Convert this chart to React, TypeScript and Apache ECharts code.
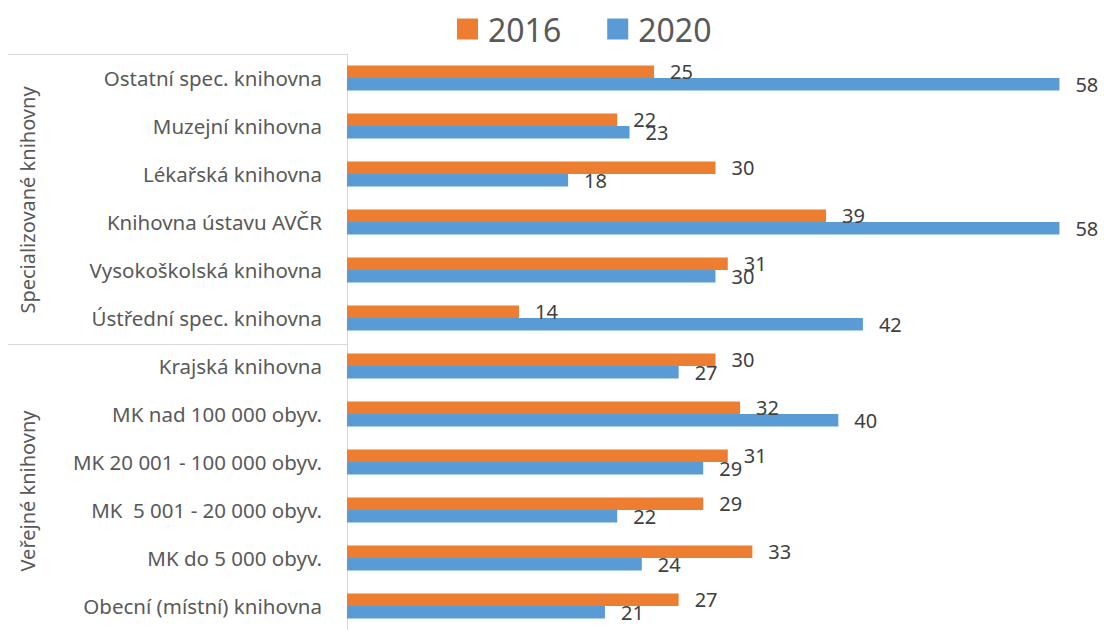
import React, { useEffect, useRef } from "react";
import * as echarts from "echarts";

const categories = [
  "Ostatní spec. knihovna",
  "Muzejní knihovna",
  "Lékařská knihovna",
  "Knihovna ústavu AVČR",
  "Vysokoškolská knihovna",
  "Ústřední spec. knihovna",
  "Krajská knihovna",
  "MK nad 100 000 obyv.",
  "MK 20 001 - 100 000 obyv.",
  "MK  5 001 - 20 000 obyv.",
  "MK do 5 000 obyv.",
  "Obecní (místní) knihovna",
];
const values2016 = [25, 22, 30, 39, 31, 14, 30, 32, 31, 29, 33, 27];
const values2020 = [58, 23, 18, 58, 30, 42, 27, 40, 29, 22, 24, 21];
const seriesNames = ["2016", "2020"];
const groupNames = ["Specializované knihovny", "Veřejné knihovny"];

const FONT = "'Noto Sans', sans-serif";

export default function App() {
  const ref = useRef<HTMLDivElement>(null);
  useEffect(() => {
    if (!ref.current) return;
    const chart = echarts.init(ref.current, undefined, { renderer: "svg" });
    const labelCfg = {
      show: true,
      position: "right",
      distance: 16,
      color: "#404040",
      fontSize: 20,
      fontFamily: FONT,
    };
    chart.setOption({
      animation: false,
      color: ["#ED7D31", "#5B9BD5"],
      legend: {
        data: seriesNames,
        left: 457,
        top: 8,
        padding: 0,
        icon: "rect",
        itemWidth: 21,
        itemHeight: 21,
        itemGap: 46,
        textStyle: {
          fontSize: 32,
          fontFamily: FONT,
          color: "#595959",
          lineHeight: 42,
          padding: [0, 0, 0, 5],
        },
      },
      grid: { left: 347, right: 20, top: 54, height: 581, containLabel: false },
      xAxis: {
        type: "value",
        min: 0,
        max: 60,
        show: false,
        splitLine: { show: false },
      },
      yAxis: {
        type: "category",
        data: categories,
        inverse: true,
        axisLine: { show: true, lineStyle: { color: "#d9d9d9", width: 1 } },
        axisTick: { show: false },
        axisLabel: {
          margin: 25,
          fontSize: 20.5,
          fontFamily: FONT,
          color: "#595959",
        },
      },
      series: [
        {
          name: seriesNames[0],
          type: "bar",
          data: values2016,
          barWidth: 12.5,
          barGap: "0%",
          label: labelCfg,
        },
        {
          name: seriesNames[1],
          type: "bar",
          data: values2020,
          barWidth: 12.5,
          barGap: "0%",
          label: labelCfg,
        },
      ],
      graphic: [
        { type: "line", shape: { x1: 8, y1: 54.5, x2: 347, y2: 54.5 }, style: { stroke: "#d9d9d9", lineWidth: 1 } },
        { type: "line", shape: { x1: 8, y1: 344.5, x2: 347, y2: 344.5 }, style: { stroke: "#d9d9d9", lineWidth: 1 } },
        {
          type: "text",
          x: 27,
          y: 200,
          rotation: Math.PI / 2,
          style: { text: groupNames[0], align: "center", verticalAlign: "middle", fontSize: 20, fontFamily: FONT, fill: "#595959" },
        },
        {
          type: "text",
          x: 27,
          y: 491,
          rotation: Math.PI / 2,
          style: { text: groupNames[1], align: "center", verticalAlign: "middle", fontSize: 20, fontFamily: FONT, fill: "#595959" },
        },
      ],
    });
    return () => chart.dispose();
  }, []);
  return <div ref={ref} style={{ position: "absolute", left: 0, top: 0, width: 1104, height: 630 }} />;
}
